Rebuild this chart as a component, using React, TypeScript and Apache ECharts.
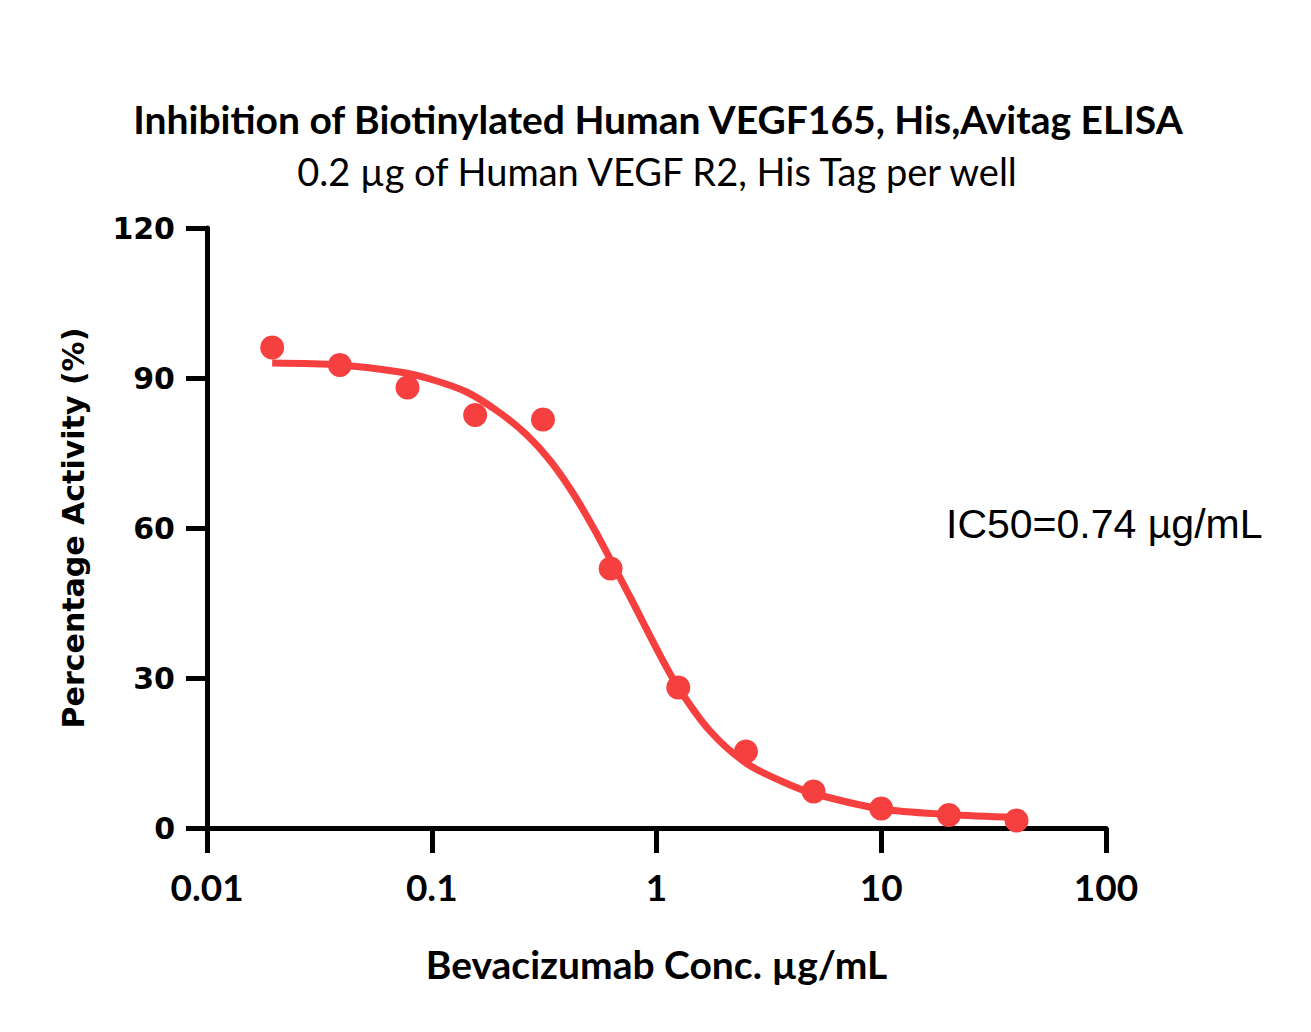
import React, { useEffect, useRef } from "react";
import * as echarts from "echarts";

// Bevacizumab concentration (µg/mL), 2-fold serial dilution
const concentrations = [0.0195, 0.039, 0.078, 0.156, 0.3125, 0.625, 1.25, 2.5, 5, 10, 20, 40];
// Measured percentage activity at each concentration
const activity = [96.1, 92.6, 88.1, 82.6, 81.7, 51.9, 28.1, 15.3, 7.3, 3.9, 2.6, 1.5];

// Fitted dose-response curve, sampled along the concentration range
const fitConcentrations = [
  0.0195, 0.039, 0.072, 0.1, 0.143, 0.2, 0.265, 0.336, 0.426, 0.54, 0.64, 0.79, 1.0, 1.25, 1.73, 2.52, 3.8, 5.0, 10, 20, 40,
];
const fitActivity = [
  93.0, 92.6, 91.2, 89.7, 87.2, 83.1, 78.6, 73.5, 66.9, 59.0, 52.7, 44.9, 35.9, 28.1, 19.4, 12.9, 8.9, 6.9, 3.8, 2.7, 2.1,
];

const xTickLabels = ["0.01", "0.1", "1", "10", "100"];
const yTickLabels = ["0", "30", "60", "90", "120"];

const titleText = "Inhibition of Biotinylated Human VEGF165, His,Avitag ELISA";
const subtitleText = "0.2 µg of Human VEGF R2, His Tag per well";
const xAxisTitle = "Bevacizumab Conc. µg/mL";
const yAxisTitle = "Percentage Activity (%)";
const ic50Label = "IC50=0.74 µg/mL";

const RED = "#F5403F";

export default function App() {
  const ref = useRef<HTMLDivElement>(null);

  useEffect(() => {
    if (!ref.current) return;
    const chart = echarts.init(ref.current, null, { renderer: "svg" });

    const option: echarts.EChartsOption = {
      animation: false,
      backgroundColor: "#ffffff",
      grid: { left: 207, top: 228, width: 899, height: 600, containLabel: false },
      xAxis: {
        type: "log",
        logBase: 10,
        min: 0.01,
        max: 100,
        name: xAxisTitle,
        nameLocation: "middle",
        nameGap: 116,
        nameTextStyle: { fontFamily: "Lato", fontWeight: "bold", fontSize: 39, color: "#000" },
        axisLine: { show: true, onZero: false, lineStyle: { color: "#000", width: 5 } },
        axisTick: { show: true, inside: false, length: 25, lineStyle: { color: "#000", width: 5 } },
        minorTick: { show: false },
        splitLine: { show: false },
        axisLabel: {
          margin: 40,
          fontFamily: "Lato",
          fontWeight: "bold",
          fontSize: 37,
          color: "#000",
          formatter: (v: number) => xTickLabels[Math.round(Math.log10(v)) + 2] ?? "",
        },
      },
      yAxis: {
        type: "value",
        min: 0,
        max: 120,
        interval: 30,
        name: yAxisTitle,
        nameLocation: "middle",
        nameGap: 119,
        nameTextStyle: { fontFamily: "DejaVu Sans", fontWeight: "bold", fontSize: 30, color: "#000" },
        axisLine: { show: true, onZero: false, lineStyle: { color: "#000", width: 5 } },
        axisTick: { show: true, inside: false, length: 21, lineStyle: { color: "#000", width: 5 } },
        splitLine: { show: false },
        axisLabel: {
          margin: 32,
          fontFamily: "DejaVu Sans",
          fontWeight: "bold",
          fontSize: 30,
          color: "#000",
          formatter: (v: number) => yTickLabels[Math.round(v / 30)] ?? "",
        },
      },
      series: [
        {
          type: "line",
          name: "fit",
          data: fitConcentrations.map((c, i) => [c, fitActivity[i]]),
          smooth: 0.3,
          showSymbol: false,
          symbol: "none",
          lineStyle: { color: RED, width: 7, cap: "butt", join: "round" },
          z: 2,
        },
        {
          type: "scatter",
          name: "data",
          data: concentrations.map((c, i) => [c, activity[i]]),
          symbol: "circle",
          symbolSize: 24,
          itemStyle: { color: RED, opacity: 1 },
          z: 3,
        },
      ],
      graphic: [
        {
          type: "text",
          x: 658,
          y: 119,
          style: {
            text: titleText,
            fontFamily: "Lato",
            fontWeight: "bold",
            fontSize: 39,
            fill: "#000",
            align: "center",
            verticalAlign: "middle",
          },
        },
        {
          type: "text",
          x: 657,
          y: 171,
          style: {
            text: subtitleText,
            fontFamily: "Lato",
            fontWeight: "normal",
            fontSize: 38,
            fill: "#000",
            align: "center",
            verticalAlign: "middle",
          },
        },
        {
          type: "text",
          x: 946,
          y: 524,
          style: {
            text: ic50Label,
            fontFamily: "Liberation Sans",
            fontSize: 41,
            fill: "#000",
            align: "left",
            verticalAlign: "middle",
          },
        },
      ],
    };

    chart.setOption(option);
    return () => chart.dispose();
  }, []);

  return (
    <div
      ref={ref}
      style={{ position: "absolute", left: 0, top: 0, width: 1311, height: 1032, background: "#fff" }}
    />
  );
}
